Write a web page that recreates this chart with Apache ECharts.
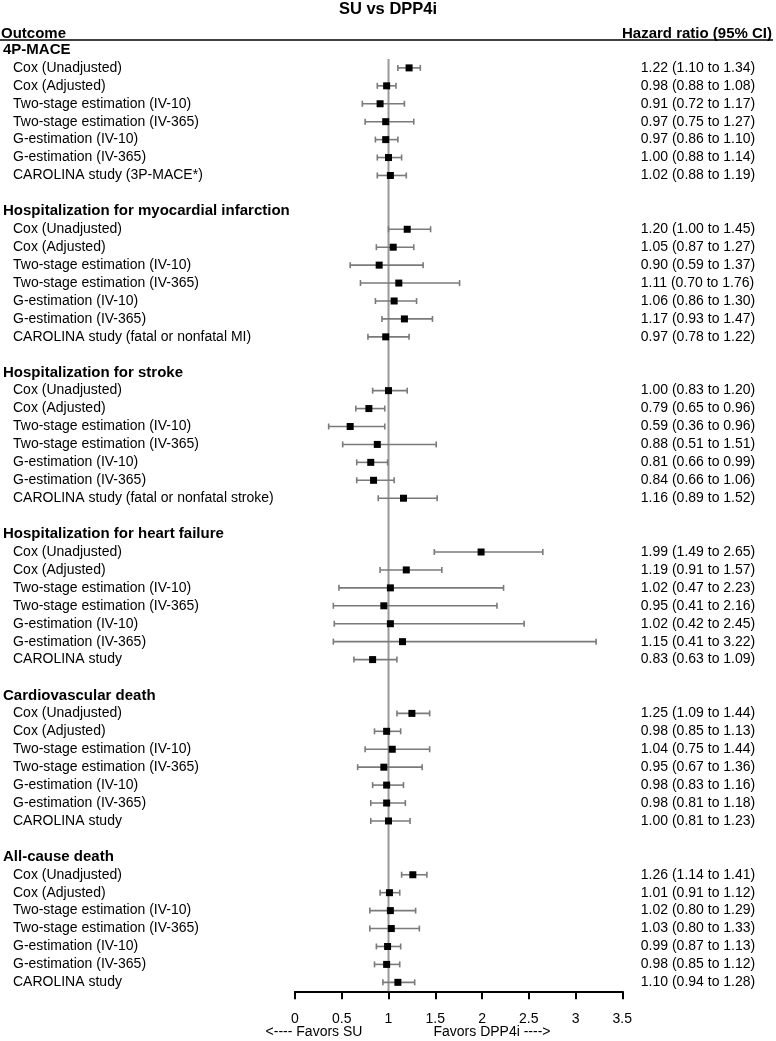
<!DOCTYPE html>
<html>
<head>
<meta charset="utf-8">
<script src="https://cdn.jsdelivr.net/npm/echarts@6/dist/echarts.min.js"></script>
<style>html,body{margin:0;padding:0;background:#fff;}#c{width:776px;height:1041px;}</style>
</head>
<body>
<div id="c"></div>
<script>
const outcomes = ['4P-MACE', 'Hospitalization for myocardial infarction', 'Hospitalization for stroke',
  'Hospitalization for heart failure', 'Cardiovascular death', 'All-cause death'];
const methods = ['Cox (Unadjusted)', 'Cox (Adjusted)', 'Two-stage estimation (IV-10)',
  'Two-stage estimation (IV-365)', 'G-estimation (IV-10)', 'G-estimation (IV-365)'];
const carolinaLabels = ['CAROLINA study (3P-MACE*)', 'CAROLINA study (fatal or nonfatal MI)',
  'CAROLINA study (fatal or nonfatal stroke)', 'CAROLINA study', 'CAROLINA study', 'CAROLINA study'];
const hrMACE   = [1.22, 0.98, 0.91, 0.97, 0.97, 1.00, 1.02];
const loMACE   = [1.10, 0.88, 0.72, 0.75, 0.86, 0.88, 0.88];
const hiMACE   = [1.34, 1.08, 1.17, 1.27, 1.10, 1.14, 1.19];
const hrMI     = [1.20, 1.05, 0.90, 1.11, 1.06, 1.17, 0.97];
const loMI     = [1.00, 0.87, 0.59, 0.70, 0.86, 0.93, 0.78];
const hiMI     = [1.45, 1.27, 1.37, 1.76, 1.30, 1.47, 1.22];
const hrStroke = [1.00, 0.79, 0.59, 0.88, 0.81, 0.84, 1.16];
const loStroke = [0.83, 0.65, 0.36, 0.51, 0.66, 0.66, 0.89];
const hiStroke = [1.20, 0.96, 0.96, 1.51, 0.99, 1.06, 1.52];
const hrHF     = [1.99, 1.19, 1.02, 0.95, 1.02, 1.15, 0.83];
const loHF     = [1.49, 0.91, 0.47, 0.41, 0.42, 0.41, 0.63];
const hiHF     = [2.65, 1.57, 2.23, 2.16, 2.45, 3.22, 1.09];
const hrCVD    = [1.25, 0.98, 1.04, 0.95, 0.98, 0.98, 1.00];
const loCVD    = [1.09, 0.85, 0.75, 0.67, 0.83, 0.81, 0.81];
const hiCVD    = [1.44, 1.13, 1.44, 1.36, 1.16, 1.18, 1.23];
const hrACD    = [1.26, 1.01, 1.02, 1.03, 0.99, 0.98, 1.10];
const loACD    = [1.14, 0.91, 0.80, 0.80, 0.87, 0.85, 0.94];
const hiACD    = [1.41, 1.12, 1.29, 1.33, 1.13, 1.12, 1.28];
const xTicks = [0, 0.5, 1, 1.5, 2, 2.5, 3, 3.5];

const hrAll = [hrMACE, hrMI, hrStroke, hrHF, hrCVD, hrACD];
const loAll = [loMACE, loMI, loStroke, loHF, loCVD, loACD];
const hiAll = [hiMACE, hiMI, hiStroke, hiHF, hiCVD, hiACD];

const rowLabels = [], rowTypes = [], hrText = [], points = [], bars = [];
outcomes.forEach((o, g) => {
  rowLabels.push(o); rowTypes.push('h'); hrText.push('');
  const labs = methods.concat([carolinaLabels[g]]);
  labs.forEach((m, i) => {
    const idx = rowLabels.length;
    rowLabels.push(m); rowTypes.push('s');
    const e = hrAll[g][i], l = loAll[g][i], h = hiAll[g][i];
    hrText.push(e.toFixed(2) + ' (' + l.toFixed(2) + ' to ' + h.toFixed(2) + ')');
    points.push([e, idx]);
    bars.push([l, h, idx]);
  });
  if (g < outcomes.length - 1) { rowLabels.push(''); rowTypes.push('b'); hrText.push(''); }
});
const lastRow = rowLabels.length - 1;

const FONT = '"Liberation Sans", Arial, Helvetica, sans-serif';
const chart = echarts.init(document.getElementById('c'), null, {renderer: 'canvas'});
chart.setOption({
  animation: false,
  backgroundColor: '#fff',
  textStyle: {fontFamily: FONT, color: '#000'},
  grid: {left: 293.3, right: 153.7, top: 41, bottom: 49.7, containLabel: false},
  xAxis: {
    type: 'value', min: xTicks[0], max: xTicks[xTicks.length - 1], interval: 0.5,
    axisLine: {show: true, lineStyle: {color: '#000', width: 2}},
    axisTick: {show: true, length: 8, inside: false, lineStyle: {color: '#000', width: 2}},
    axisLabel: {fontFamily: FONT, fontSize: 14, color: '#000', margin: 21,
      formatter: v => String(v)},
    splitLine: {show: false}
  },
  yAxis: [{
    type: 'category', data: rowLabels, inverse: true, position: 'left',
    axisLine: {show: false}, axisTick: {show: false}, splitLine: {show: false},
    axisLabel: {
      interval: 0, margin: 292, align: 'left', hideOverlap: false,
      formatter: (v, i) => rowTypes[i] === 'h' ? '{h|' + v + '}' : (rowTypes[i] === 's' ? '{s|' + v + '}' : ''),
      rich: {
        h: {fontFamily: FONT, fontSize: 15, fontWeight: 'bold', color: '#000'},
        s: {fontFamily: FONT, fontSize: 14, color: '#000', padding: [0, 0, 0, 10]}
      }
    }
  }, {
    type: 'category', data: hrText, inverse: true, position: 'right',
    axisLine: {show: false}, axisTick: {show: false}, splitLine: {show: false},
    axisLabel: {interval: 0, margin: 18.5, align: 'left', hideOverlap: false,
      fontFamily: FONT, fontSize: 14, color: '#000'}
  }],
  graphic: [
    {type: 'text', x: 388, y: 9, style: {text: 'SU vs DPP4i', font: 'bold 16.5px ' + FONT, fill: '#000', textAlign: 'center', textVerticalAlign: 'middle'}},
    {type: 'text', left: 1, top: 26, style: {text: 'Outcome', font: 'bold 15px ' + FONT, fill: '#000'}},
    {type: 'text', right: 4, top: 26, style: {text: 'Hazard ratio (95% CI)', font: 'bold 15px ' + FONT, fill: '#000'}},
    {type: 'line', shape: {x1: 0, y1: 40, x2: 773, y2: 40}, style: {stroke: '#000', lineWidth: 1.5}},
    {type: 'text', x: 314, y: 1032, style: {text: '<---- Favors SU', font: '14px ' + FONT, fill: '#000', textAlign: 'center', textVerticalAlign: 'middle'}},
    {type: 'text', x: 492, y: 1032, style: {text: 'Favors DPP4i ---->', font: '14px ' + FONT, fill: '#000', textAlign: 'center', textVerticalAlign: 'middle'}}
  ],
  series: [{
    type: 'custom', name: 'ref', z: 1,
    data: [[1, 0, lastRow]],
    encode: {x: 0, y: [1, 2]},
    renderItem: (params, api) => {
      const p0 = api.coord([api.value(0), api.value(1)]);
      const p1 = api.coord([api.value(0), api.value(2)]);
      const h = api.size([0, 1])[1];
      return {type: 'line', shape: {x1: p0[0], y1: p0[1] + h / 2, x2: p1[0], y2: p1[1] + h / 2},
        style: {stroke: '#999', lineWidth: 2}};
    }
  }, {
    type: 'custom', name: 'ci', z: 2,
    data: bars,
    encode: {x: [0, 1], y: 2},
    renderItem: (params, api) => {
      const a = api.coord([api.value(0), api.value(2)]);
      const b = api.coord([api.value(1), api.value(2)]);
      const c = 3;
      const st = {stroke: '#7a7a7a', lineWidth: 1.6};
      return {type: 'group', children: [
        {type: 'line', shape: {x1: a[0], y1: a[1], x2: b[0], y2: b[1]}, style: st},
        {type: 'line', shape: {x1: a[0], y1: a[1] - c, x2: a[0], y2: a[1] + c}, style: st},
        {type: 'line', shape: {x1: b[0], y1: b[1] - c, x2: b[0], y2: b[1] + c}, style: st}
      ]};
    }
  }, {
    type: 'scatter', name: 'hr', z: 3,
    data: points, symbol: 'rect', symbolSize: 7,
    itemStyle: {color: '#000', opacity: 1}
  }]
});
</script>
</body>
</html>
